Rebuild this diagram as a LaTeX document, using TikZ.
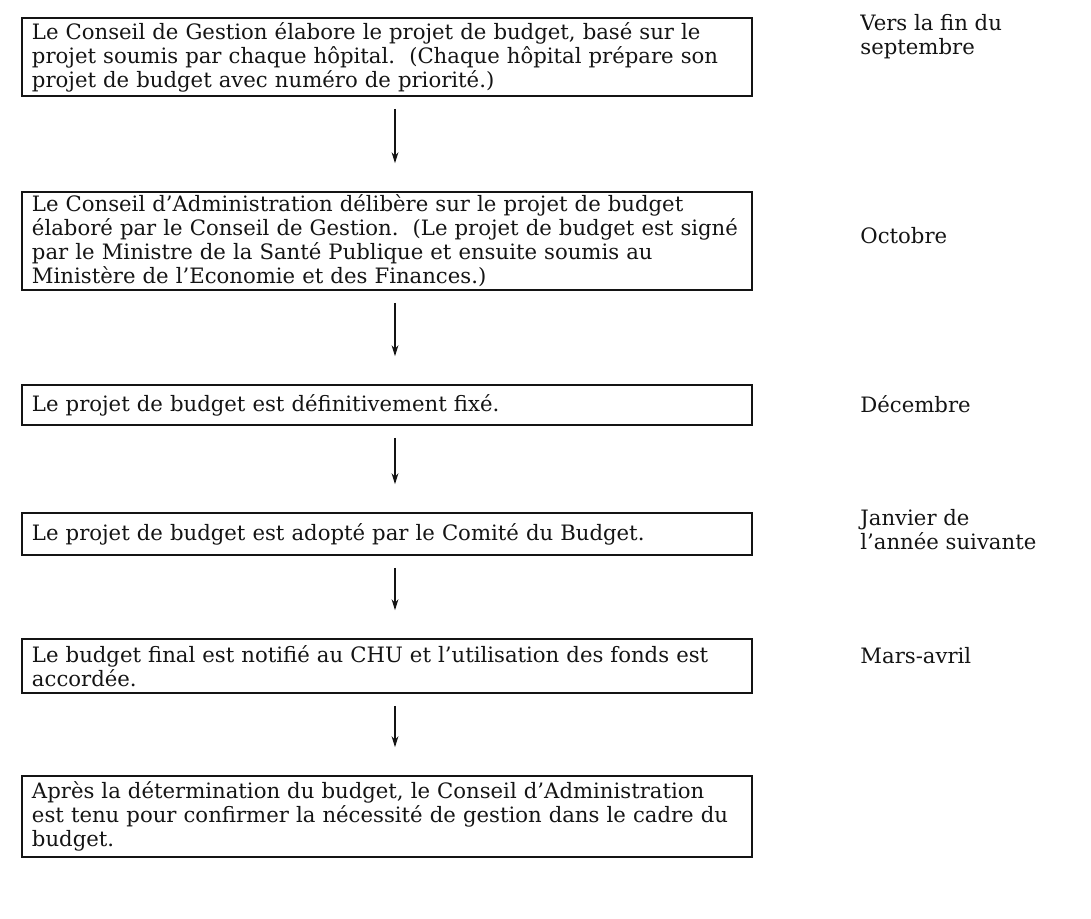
\documentclass[tikz,border=0pt]{standalone}
\usepackage{fontspec}
\setmainfont{DejaVu Serif}
\usetikzlibrary{arrows.meta,positioning}
\definecolor{budgetInk}{HTML}{141414}
\tikzset{
  every picture/.style={font=\fontsize{10.6}{12}\selectfont, text=budgetInk},
  budget box/.style={draw=budgetInk, line width=0.8pt, align=left,
    minimum width=365pt, text width=355pt, inner xsep=5pt, inner ysep=0pt},
  budget arrow/.style={-{Stealth[length=5.5pt,width=3.4pt]},
    draw=budgetInk, line width=0.7pt, shorten <=6pt, shorten >=14pt},
  budget date/.style={anchor=west, align=left, inner sep=0pt}
}
\begin{document}
\begin{tikzpicture}[x=0.5pt,y=-0.5pt]
  \useasboundingbox (0,0) rectangle (1091,919);
  % stages of the budget procedure
  \node[budget box, minimum height=39pt] (prep) at (387,57)
    {Le Conseil de Gestion élabore le projet de budget, basé sur le\\
     projet soumis par chaque hôpital.\ \ (Chaque hôpital prépare son\\
     projet de budget avec numéro de priorité.)};
  \node[budget box, minimum height=49pt] (delib) at (387,241)
    {Le Conseil d’Administration délibère sur le projet de budget\\
     élaboré par le Conseil de Gestion.\ \ (Le projet de budget est signé\\
     par le Ministre de la Santé Publique et ensuite soumis au\\
     Ministère de l’Economie et des Finances.)};
  \node[budget box, minimum height=20pt] (fixed) at (387,405)
    {Le projet de budget est définitivement fixé.};
  \node[budget box, minimum height=21pt] (adopt) at (387,534)
    {Le projet de budget est adopté par le Comité du Budget.};
  \node[budget box, minimum height=27pt] (notif) at (387,666)
    {Le budget final est notifié au CHU et l’utilisation des fonds est\\
     accordée.};
  \node[budget box, minimum height=40.5pt] (confirm) at (387,816.5)
    {Après la détermination du budget, le Conseil d’Administration\\
     est tenu pour confirmer la nécessité de gestion dans le cadre du\\
     budget.};
  % arrows between stages
  \draw[budget arrow] ([xshift=4pt]prep.south) -- ([xshift=4pt]delib.north);
  \draw[budget arrow] ([xshift=4pt]delib.south) -- ([xshift=4pt]fixed.north);
  \draw[budget arrow] ([xshift=4pt]fixed.south) -- ([xshift=4pt]adopt.north);
  \draw[budget arrow] ([xshift=4pt]adopt.south) -- ([xshift=4pt]notif.north);
  \draw[budget arrow] ([xshift=4pt]notif.south) -- ([xshift=4pt]confirm.north);
  % dates
  \node[budget date] (dprep) at (860,37) {Vers la fin du\\septembre};
  \node[budget date] (ddelib) at (860,236) {Octobre};
  \node[budget date] (dfixed) at (860,404) {Décembre};
  \node[budget date] (dadopt) at (860,530) {Janvier de\\l’année suivante};
  \node[budget date] (dnotif) at (860,656) {Mars-avril};
\end{tikzpicture}
\end{document}
